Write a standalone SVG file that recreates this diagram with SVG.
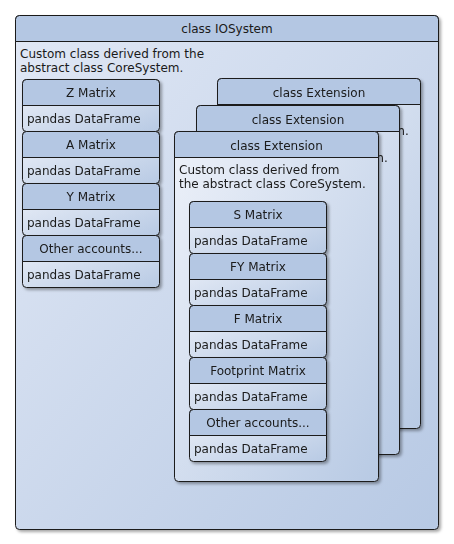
<svg xmlns="http://www.w3.org/2000/svg" width="454" height="544" viewBox="0 0 454 544">
<style>
text{font-family:"DejaVu Sans","Liberation Sans",sans-serif;font-size:12px;fill:#1a1a1a}
.c{text-anchor:middle}
.hdr{fill:#b4c7e3}
.box{stroke:#1a1a1a;stroke-width:1}
</style>
<defs>
<linearGradient id="gOuter" x1="0" y1="0" x2="1" y2="1">
<stop offset="0" stop-color="#e1e8f5"/>
<stop offset="1" stop-color="#b7c9e4"/>
</linearGradient>
<linearGradient id="gBody" x1="0" y1="0" x2="1" y2="1">
<stop offset="0" stop-color="#edf1f9"/>
<stop offset="1" stop-color="#b8cae4"/>
</linearGradient>
<filter id="sh" x="-10%" y="-10%" width="130%" height="130%">
<feDropShadow dx="2" dy="2" stdDeviation="1.5" flood-color="#000" flood-opacity="0.35"/>
</filter>
<g id="matrixShape">
<rect x="0" y="0" width="137" height="52" rx="4" fill="url(#gBody)" class="box"/>
<path d="M0,26 V4 A4,4 0 0 1 4,0 H133 A4,4 0 0 1 137,4 V26 Z" class="hdr box"/>
</g>
</defs>

<g id="IOSystem">
<rect x="15.5" y="15.5" width="423" height="514" rx="4" fill="url(#gOuter)" class="box" filter="url(#sh)"/>
<path d="M15.5,41.5 V19.5 A4,4 0 0 1 19.5,15.5 H434.5 A4,4 0 0 1 438.5,19.5 V41.5 Z" class="hdr box"/>
<text x="227" y="33" class="c">class IOSystem</text>
<text x="20" y="58">Custom class derived from the</text>
<text x="20" y="72">abstract class CoreSystem.</text>
</g>

<g id="ZMatrix" transform="translate(22.5,79.5)" filter="url(#sh)">
<use href="#matrixShape"/>
<text x="68.5" y="17" class="c">Z Matrix</text>
<text x="4.5" y="43">pandas DataFrame</text>
</g>
<g id="AMatrix" transform="translate(22.5,131.5)" filter="url(#sh)">
<use href="#matrixShape"/>
<text x="68.5" y="17" class="c">A Matrix</text>
<text x="4.5" y="43">pandas DataFrame</text>
</g>
<g id="YMatrix" transform="translate(22.5,183.5)" filter="url(#sh)">
<use href="#matrixShape"/>
<text x="68.5" y="17" class="c">Y Matrix</text>
<text x="4.5" y="43">pandas DataFrame</text>
</g>
<g id="OtherAccounts" transform="translate(22.5,235.5)" filter="url(#sh)">
<use href="#matrixShape"/>
<text x="68.5" y="17" class="c">Other accounts...</text>
<text x="4.5" y="43">pandas DataFrame</text>
</g>

<g id="Extension3" transform="translate(217.5,78.5)" filter="url(#sh)">
<rect x="0" y="0" width="203" height="350" rx="4" fill="url(#gBody)" class="box"/>
<path d="M0,26 V4 A4,4 0 0 1 4,0 H199 A4,4 0 0 1 203,4 V26 Z" class="hdr box"/>
<text x="101.5" y="18" class="c">class Extension</text>
<text x="4.5" y="56.5">the abstract class CoreSystem.</text>
</g>
<g id="Extension2" transform="translate(196.5,105.5)" filter="url(#sh)">
<rect x="0" y="0" width="203" height="349" rx="4" fill="url(#gBody)" class="box"/>
<path d="M0,26 V4 A4,4 0 0 1 4,0 H199 A4,4 0 0 1 203,4 V26 Z" class="hdr box"/>
<text x="101.5" y="18" class="c">class Extension</text>
<text x="4.5" y="56.5">the abstract class CoreSystem.</text>
</g>
<g id="Extension1" transform="translate(174.5,131.5)" filter="url(#sh)">
<rect x="0" y="0" width="204" height="350" rx="4" fill="url(#gBody)" class="box"/>
<path d="M0,26 V4 A4,4 0 0 1 4,0 H200 A4,4 0 0 1 204,4 V26 Z" class="hdr box"/>
<text x="102" y="18" class="c">class Extension</text>
<text x="4.5" y="42.5">Custom class derived from</text>
<text x="4.5" y="56.5">the abstract class CoreSystem.</text>
</g>

<g id="SMatrix" transform="translate(189.5,201.5)" filter="url(#sh)">
<use href="#matrixShape"/>
<text x="68.5" y="17" class="c">S Matrix</text>
<text x="4.5" y="43">pandas DataFrame</text>
</g>
<g id="FYMatrix" transform="translate(189.5,253.5)" filter="url(#sh)">
<use href="#matrixShape"/>
<text x="68.5" y="17" class="c">FY Matrix</text>
<text x="4.5" y="43">pandas DataFrame</text>
</g>
<g id="FMatrix" transform="translate(189.5,305.5)" filter="url(#sh)">
<use href="#matrixShape"/>
<text x="68.5" y="17" class="c">F Matrix</text>
<text x="4.5" y="43">pandas DataFrame</text>
</g>
<g id="FootprintMatrix" transform="translate(189.5,357.5)" filter="url(#sh)">
<use href="#matrixShape"/>
<text x="68.5" y="17" class="c">Footprint Matrix</text>
<text x="4.5" y="43">pandas DataFrame</text>
</g>
<g id="ExtOtherAccounts" transform="translate(189.5,409.5)" filter="url(#sh)">
<use href="#matrixShape"/>
<text x="68.5" y="17" class="c">Other accounts...</text>
<text x="4.5" y="43">pandas DataFrame</text>
</g>

<g id="connectors"/>
</svg>
